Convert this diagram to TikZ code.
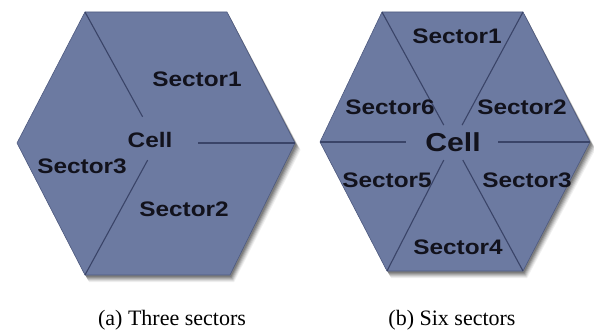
\documentclass[tikz,border=0pt]{standalone}
\usepackage{fontspec}
\setmainfont{Liberation Serif}
\setsansfont{Liberation Sans}
\usetikzlibrary{calc}
\definecolor{hexfill}{RGB}{108,122,161}
\definecolor{hexline}{RGB}{58,68,104}
\definecolor{hexedge}{RGB}{78,90,128}
\definecolor{labtext}{RGB}{18,18,28}
\tikzset{
  sectlab/.style={font=\sffamily\bfseries\fontsize{21}{21}\selectfont, text=labtext, xscale=1.16, inner sep=0pt},
  bigcell/.style={font=\sffamily\bfseries\fontsize{26}{26}\selectfont, text=labtext, xscale=1.16, inner sep=0pt},
  divline/.style={draw=hexline, line width=1.1pt},
  hexbody/.style={fill=hexfill, draw=hexedge, line width=0.6pt},
  caption/.style={font=\fontsize{22}{22}\selectfont, inner sep=0pt, anchor=base}
}
\begin{document}
\begin{tikzpicture}[x=1pt,y=-1pt]
\useasboundingbox (0,0) rectangle (594,331);
% ---------- hexagon (a) ----------
\coordinate (a1) at (85,12);
\coordinate (a2) at (227,12);
\coordinate (a3) at (295,143);
\coordinate (a4) at (230,275);
\coordinate (a5) at (85,275);
\coordinate (a6) at (17,143);
\coordinate (ac) at (157,143);
% shadow
\foreach \d/\o in {7/0.06,6/0.08,5/0.10,4/0.12,3/0.14,2/0.16}{
  \fill[black, opacity=\o] ($(a1)+(\d*0.6,\d)$) -- ($(a2)+(\d*0.6,\d)$) -- ($(a3)+(\d*0.8,\d)$) -- ($(a4)+(\d*0.6,\d)$) -- ($(a5)+(\d*0.6,\d)$) -- ($(a6)+(\d*0.6,\d)$) -- cycle;
}
\path[hexbody] (a1) -- (a2) -- (a3) -- (a4) -- (a5) -- (a6) -- cycle;
\draw[divline] (a1) -- ($(a1)!0.80!(ac)$);
\draw[divline] (a5) -- ($(a5)!0.87!(ac)$);
\draw[divline] (a3) -- ($(a3)!0.70!(ac)$);
\node[sectlab] (as1) at (197,79) {Sector1};
\node[sectlab] (acell) at (150,140) {Cell};
\node[sectlab] (as3) at (82,166) {Sector3};
\node[sectlab] (as2) at (184,209) {Sector2};
% ---------- hexagon (b) ----------
\coordinate (b1) at (382,12);
\coordinate (b2) at (523,12);
\coordinate (b3) at (590,142);
\coordinate (b4) at (523,271);
\coordinate (b5) at (387,271);
\coordinate (b6) at (320,142);
\coordinate (bc) at (453,142);
\foreach \d/\o in {7/0.06,6/0.08,5/0.10,4/0.12,3/0.14,2/0.16}{
  \fill[black, opacity=\o] ($(b1)+(\d*0.6,\d)$) -- ($(b2)+(\d*0.6,\d)$) -- ($(b3)+(\d*0.8,\d)$) -- ($(b4)+(\d*0.6,\d)$) -- ($(b5)+(\d*0.6,\d)$) -- ($(b6)+(\d*0.6,\d)$) -- cycle;
}
\path[hexbody] (b1) -- (b2) -- (b3) -- (b4) -- (b5) -- (b6) -- cycle;
\draw[divline] (b1) -- ($(b1)!0.87!(bc)$);
\draw[divline] (b2) -- ($(b2)!0.87!(bc)$);
\draw[divline] (b4) -- ($(b4)!0.86!(bc)$);
\draw[divline] (b5) -- ($(b5)!0.86!(bc)$);
\draw[divline] (b6) -- ($(b6)!0.65!(bc)$);
\draw[divline] (b3) -- ($(b3)!0.67!(bc)$);
\node[sectlab] (bs1) at (457,36) {Sector1};
\node[sectlab] (bs6) at (390,107) {Sector6};
\node[sectlab] (bs2) at (522,107) {Sector2};
\node[bigcell] (bcell) at (453,142) {Cell};
\node[sectlab] (bs5) at (387,180) {Sector5};
\node[sectlab] (bs3) at (527,180) {Sector3};
\node[sectlab] (bs4) at (458,247) {Sector4};
% ---------- captions ----------
\node[caption] (capa) at (172,325) {(a) Three sectors};
\node[caption] (capb) at (452,325) {(b) Six sectors};
\end{tikzpicture}
\end{document}
